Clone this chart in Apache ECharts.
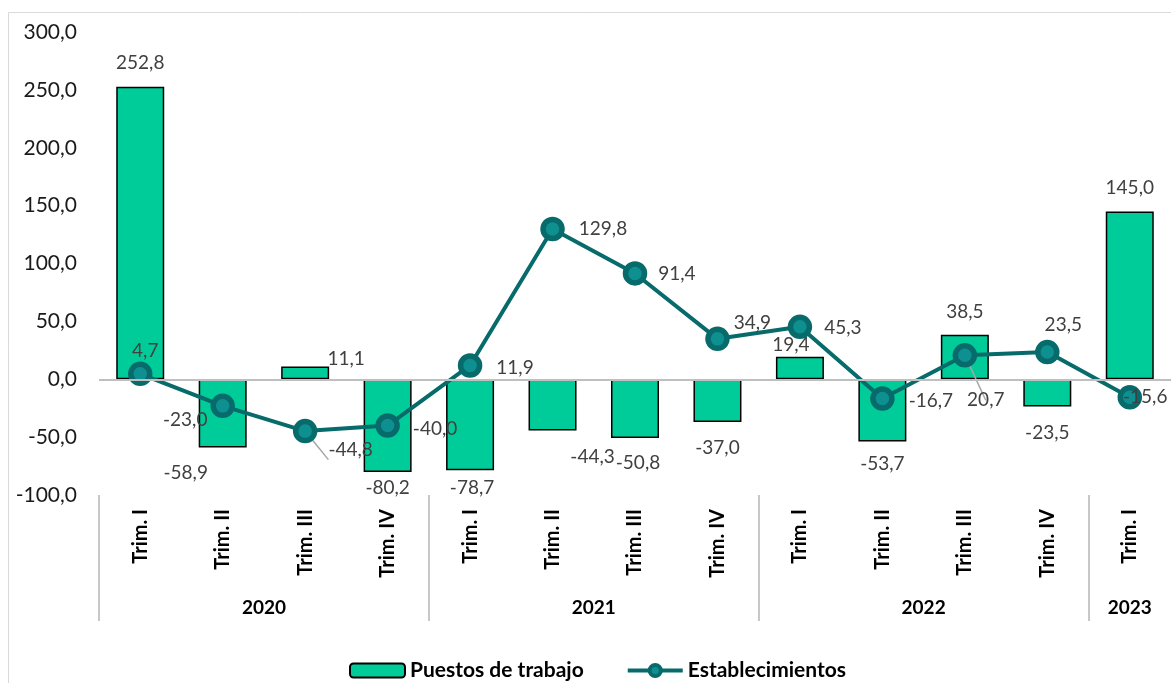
<!DOCTYPE html>
<html>
<head>
<meta charset="utf-8">
<script src="https://cdn.jsdelivr.net/npm/echarts@6/dist/echarts.min.js"></script>
<style>
  html, body { margin: 0; padding: 0; background: #fff; }
  #main { width: 1171px; height: 683px; }
</style>
</head>
<body>
<div id="main"></div>
<script>
// quarters and year groups
var trimestres = ['Trim. I', 'Trim. II', 'Trim. III', 'Trim. IV',
                  'Trim. I', 'Trim. II', 'Trim. III', 'Trim. IV',
                  'Trim. I', 'Trim. II', 'Trim. III', 'Trim. IV',
                  'Trim. I'];
var anios = ['2020', '2021', '2022', '2023'];
var trimsPorAnio = [4, 4, 4, 1];

// series values
var puestos = [252.8, -58.9, 11.1, -80.2, -78.7, -44.3, -50.8, -37.0, 19.4, -53.7, 38.5, -23.5, 145.0];
var establecimientos = [4.7, -23.0, -44.8, -40.0, 11.9, 129.8, 91.4, 34.9, 45.3, -16.7, 20.7, 23.5, -15.6];

// y ticks
var yMin = -100, yMax = 300, yStep = 50;

// label placement (as moved by hand in the original)
var barLabelOffset = [[0, -9], [-37, 11], [41, 7], [0, 1], [2, 3], [40, 12], [3, 10],
                      [0, 11], [-9, 3], [0, 8], [0, -8], [0, 12], [0, -9]];
var lineLabelPos = ['top', 'left', 'right', 'right', 'right', 'right', 'right',
                    'right', 'right', 'right', 'right', 'top', 'right'];
var lineLabelOffset = [[5, 4], [2, 14], [6, 19], [8, 3], [9, 2], [9, 0], [6, 0],
                       [-1, -16], [7, 1], [9, 2], [-15, 45], [16, 0], [-24, 0]];
var lineLabelGuide = [2, 10];

var fmt = function (v) { return v.toFixed(1).replace('.', ','); };
var FONT = 'Lato, "Open Sans", sans-serif';

// year label centres and separators from the group sizes
var yearCenters = [], yearBounds = [0], acc = 0;
trimsPorAnio.forEach(function (n) {
  yearCenters.push(acc + n / 2);
  acc += n;
  yearBounds.push(acc);
});
yearBounds.pop();

var barData = puestos.map(function (v, i) {
  return {
    value: v,
    label: { position: v >= 0 ? 'top' : 'bottom', offset: barLabelOffset[i] }
  };
});
var lineData = establecimientos.map(function (v, i) {
  var item = {
    value: v,
    label: { position: lineLabelPos[i], offset: lineLabelOffset[i] }
  };
  if (lineLabelGuide.indexOf(i) >= 0) {
    item.labelLine = { show: true, lineStyle: { color: '#a6a6a6', width: 1.5 } };
  }
  return item;
});

var chartDom = document.getElementById('main');
var myChart = echarts.init(chartDom);
var option = {
  animation: false,
  textStyle: { fontFamily: FONT },
  graphic: [{
    type: 'rect',
    silent: true,
    shape: { x: 8.5, y: 12.5, width: 1200, height: 700 },
    style: { fill: 'none', stroke: '#d9d9d9', lineWidth: 1 }
  }],
  grid: { left: 99, top: 32, width: 1080, bottom: 188 },
  legend: {
    left: 344,
    top: 655,
    itemWidth: 55,
    itemHeight: 14,
    itemGap: 42,
    textStyle: { fontFamily: FONT, fontSize: 21, fontWeight: 'bold', color: '#000' },
    data: [
      { name: 'Puestos de trabajo' },
      {
        name: 'Establecimientos',
        lineStyle: { width: 4, color: '#086b6b' },
        itemStyle: { color: '#0e9090', borderColor: '#086b6b', borderWidth: 4 }
      }
    ]
  },
  xAxis: [{
    type: 'category',
    data: trimestres,
    position: 'bottom',
    axisLine: { show: false },
    axisTick: { show: false },
    axisLabel: {
      interval: 0, rotate: 90, margin: 14,
      fontFamily: FONT, fontSize: 20, fontWeight: 'bold', color: '#000'
    }
  }, {
    type: 'value',
    min: 0,
    max: trimestres.length,
    position: 'bottom',
    axisLine: { show: false },
    splitLine: { show: false },
    axisTick: {
      show: true, length: 126, customValues: yearBounds,
      lineStyle: { color: '#c8c8c8', width: 2 }
    },
    axisLabel: {
      customValues: yearCenters, margin: 103,
      fontFamily: FONT, fontSize: 19, fontWeight: 'bold', color: '#000',
      formatter: function (v) {
        var k = yearCenters.indexOf(v);
        return k >= 0 ? anios[k] : '';
      }
    }
  }],
  yAxis: {
    type: 'value',
    min: yMin, max: yMax, interval: yStep,
    axisLine: { show: false },
    axisTick: { show: false },
    splitLine: { show: false },
    axisLabel: {
      margin: 22, fontFamily: FONT, fontSize: 21, color: '#1a1a1a',
      formatter: fmt
    }
  },
  series: [{
    name: 'Puestos de trabajo',
    type: 'bar',
    xAxisIndex: 0,
    barWidth: 48,
    itemStyle: { color: '#00cc99', borderColor: '#000', borderWidth: 1.5 },
    label: {
      show: true, fontFamily: FONT, fontSize: 19, color: '#404040',
      formatter: function (p) { return fmt(p.value); }
    },
    markLine: {
      silent: true,
      symbol: 'none',
      label: { show: false },
      lineStyle: { color: '#bfbfbf', width: 2, type: 'solid' },
      data: [{ yAxis: 0 }]
    },
    data: barData
  }, {
    name: 'Establecimientos',
    type: 'line',
    xAxisIndex: 0,
    symbol: 'circle',
    symbolSize: 19,
    lineStyle: { color: '#086b6b', width: 4 },
    itemStyle: { color: '#0e9090', borderColor: '#086b6b', borderWidth: 5.5 },
    label: {
      show: true, fontFamily: FONT, fontSize: 19, color: '#404040',
      formatter: function (p) { return fmt(p.value); }
    },
    data: lineData
  }]
};
option && myChart.setOption(option);
</script>
</body>
</html>
